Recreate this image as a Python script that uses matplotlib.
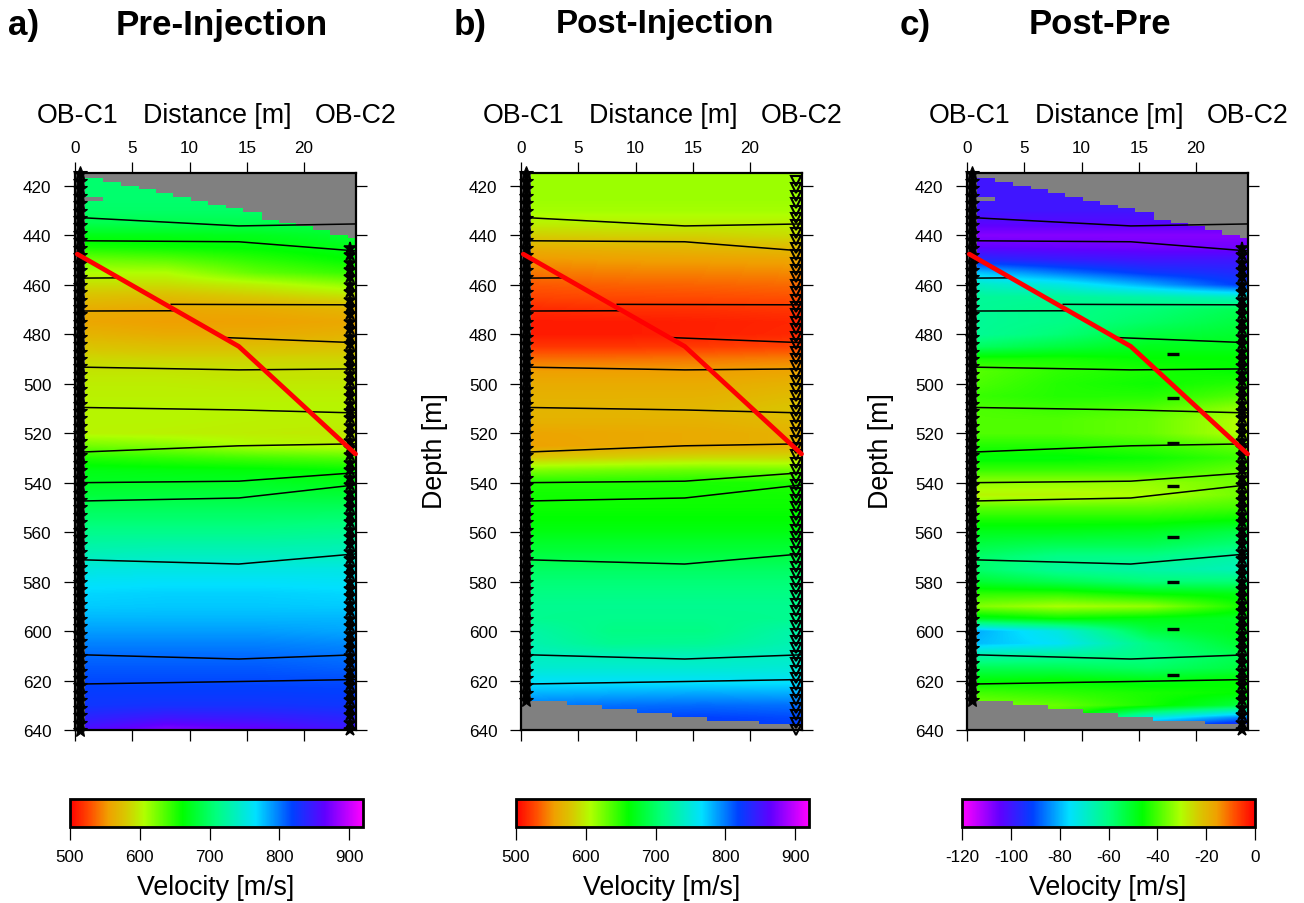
import numpy as np
import matplotlib
matplotlib.use('Agg')
import matplotlib.pyplot as plt
from matplotlib.colors import LinearSegmentedColormap

plt.rcParams['font.family'] = ['Liberation Sans', 'DejaVu Sans']
plt.rcParams['axes.unicode_minus'] = False

# grid of the velocity tables
depths = [415, 420, 425, 430, 435, 440, 445, 450, 455, 460, 465, 470, 475, 480, 485, 490,
          495, 500, 505, 510, 515, 520, 525, 530, 535, 540, 545, 550, 555, 560, 565, 570,
          575, 580, 585, 590, 595, 600, 605, 610, 615, 620, 625, 630, 635, 640]
distances = [0, 8, 16, 24]

pre_vel = [
    [703, 703, 703, 703], [703, 703, 703, 703], [703, 703, 703, 703], [700, 700, 700, 698],
    [691, 691, 691, 689], [670, 670, 672, 680], [653, 658, 663, 670], [626, 632, 648, 661],
    [607, 607, 632, 645], [590, 590, 600, 616], [575, 572, 580, 590], [563, 560, 562, 568],
    [560, 555, 556, 560], [568, 562, 562, 566], [578, 574, 574, 576], [588, 586, 586, 586],
    [594, 594, 592, 592], [598, 598, 596, 596], [600, 600, 600, 600], [602, 602, 602, 602],
    [602, 602, 600, 600], [602, 600, 598, 596], [626, 620, 606, 602], [652, 646, 640, 635],
    [669, 667, 665, 661], [675, 675, 675, 670], [684, 684, 684, 682], [695, 695, 695, 695],
    [704, 704, 704, 706], [715, 715, 715, 718], [726, 728, 728, 730], [737, 740, 740, 740],
    [752, 754, 754, 754], [762, 764, 764, 762], [769, 771, 771, 769], [773, 774, 774, 773],
    [780, 780, 780, 780], [788, 788, 788, 785], [797, 797, 797, 794], [805, 805, 805, 802],
    [811, 811, 811, 808], [816, 816, 816, 815], [822, 822, 822, 820], [826, 829, 829, 826],
    [839, 849, 846, 839], [854, 879, 869, 849]]

post_vel = [
    [613, 613, 613, 613], [613, 613, 613, 613], [613, 613, 613, 613], [610, 610, 610, 610],
    [600, 600, 600, 600], [583, 585, 585, 590], [565, 567, 570, 572], [552, 555, 556, 558],
    [542, 545, 546, 548], [532, 535, 536, 538], [525, 527, 528, 530], [515, 518, 518, 520],
    [510, 510, 512, 514], [510, 510, 512, 515], [520, 520, 522, 525], [540, 540, 542, 545],
    [555, 555, 555, 558], [562, 562, 562, 566], [566, 566, 566, 572], [568, 568, 570, 578],
    [566, 566, 566, 572], [558, 560, 562, 566], [556, 560, 562, 566], [580, 585, 590, 590],
    [621, 626, 629, 626], [652, 652, 654, 652], [656, 656, 656, 656], [658, 658, 658, 658],
    [662, 662, 662, 662], [668, 668, 668, 668], [678, 678, 678, 678], [688, 688, 688, 688],
    [698, 698, 698, 698], [706, 706, 706, 706], [712, 712, 712, 712], [717, 717, 717, 717],
    [717, 715, 715, 717], [728, 712, 712, 728], [732, 717, 719, 732], [738, 735, 735, 740],
    [746, 746, 746, 748], [762, 762, 762, 762], [780, 782, 784, 782], [799, 803, 805, 803],
    [812, 816, 819, 816], [824, 824, 824, 822]]

diff_vel = [
    [-100, -100, -100, -100], [-100, -100, -100, -100], [-100, -100, -100, -100], [-100, -100, -100, -100],
    [-103, -103, -103, -103], [-108, -108, -108, -108], [-104, -105, -106, -106], [-95, -98, -100, -100],
    [-78, -86, -93, -96], [-68, -72, -81, -92], [-63, -63, -65, -68], [-63, -61, -59, -55],
    [-63, -61, -57, -53], [-63, -59, -53, -51], [-57, -53, -49, -49], [-44, -44, -46, -46],
    [-38, -42, -44, -46], [-39, -43, -45, -43], [-41, -43, -43, -39], [-39, -41, -39, -33],
    [-39, -39, -37, -30], [-39, -39, -37, -30], [-43, -43, -41, -37], [-47, -47, -45, -41],
    [-41, -41, -41, -37], [-33, -33, -33, -36], [-29, -29, -31, -36], [-38, -38, -38, -40],
    [-44, -44, -44, -46], [-49, -49, -50, -54], [-53, -55, -55, -59], [-57, -61, -61, -65],
    [-57, -63, -65, -67], [-51, -55, -59, -59], [-42, -42, -46, -48], [-35, -31, -33, -44],
    [-50, -46, -48, -50], [-82, -72, -53, -49], [-80, -75, -60, -51], [-65, -63, -61, -55],
    [-55, -55, -57, -53], [-47, -46, -48, -46], [-40, -42, -44, -46], [-35, -37, -44, -53],
    [-33, -41, -72, -85], [-33, -43, -95, -105]]

# grey blank cells at top and bottom of the ray coverage
top_x = [0.9, 2.47, 4.0, 5.56, 7.07, 8.58, 10.1, 11.6, 13.2, 14.7, 16.3, 17.8, 19.3, 20.8, 22.3, 23.8, 24.54]
top_z = [416.9, 418.4, 419.9, 421.4, 423.0, 424.6, 426.0, 427.6, 429.0, 430.7, 433.7, 435.2, 436.4, 438.0, 439.7, 441.2]
bot_x = [0.0, 4.04, 7.1, 10.1, 13.2, 16.2, 20.8, 24.54]
bot_z = [628.3, 629.9, 631.5, 633.1, 634.6, 636.2, 637.7]

# layer boundaries, each one (x, z) polyline
layers = [
    ([0.7, 14.3, 24.5], [432.9, 436.2, 435.4]),
    ([0.7, 14.3, 24.5], [442.2, 442.6, 446.3]),
    ([0.7, 3.6], [457.3, 457.2]),
    ([8.4, 24.5], [467.9, 468.1]),
    ([0.7, 8.6], [470.6, 470.5]),
    ([12.9, 24.5], [481.3, 483.4]),
    ([0.7, 14.3, 24.5], [493.3, 494.4, 494.0]),
    ([0.7, 14.3, 24.5], [509.6, 510.6, 511.8]),
    ([0.7, 14.3, 24.5], [527.6, 525.1, 524.3]),
    ([0.7, 14.3, 24.5], [540.0, 539.4, 536.0]),
    ([0.7, 14.3, 24.5], [547.4, 546.2, 540.9]),
    ([0.7, 14.3, 24.5], [571.2, 572.9, 568.8]),
    ([0.7, 14.3, 24.5], [609.6, 611.3, 609.6]),
    ([0.7, 14.3, 24.5], [621.4, 620.4, 619.6]),
]
fault_x = [0.2, 14.3, 24.5]
fault_z = [447.6, 484.9, 528.4]

# sensors in the two boreholes
c1_depths = [415, 418, 421, 424, 427, 430, 433, 436, 439, 442, 445, 448, 451, 454, 457, 460, 463, 466,
             469, 472, 475, 478, 481, 484, 487, 490, 493, 496, 499, 502, 505, 508, 511, 514, 517, 520,
             523, 526, 529, 532, 535, 538, 541, 544, 547, 550, 553, 556, 559, 562, 565, 568, 571, 574,
             577, 580, 583, 586, 589, 592, 595, 598, 601, 604, 607, 610, 613, 616, 619, 622, 625, 628,
             631, 634, 637, 640]
c2_depths = [418, 421, 424, 427, 430, 433, 436, 439, 442, 445, 448, 451, 454, 457, 460, 463, 466,
             469, 472, 475, 478, 481, 484, 487, 490, 493, 496, 499, 502, 505, 508, 511, 514, 517, 520,
             523, 526, 529, 532, 535, 538, 541, 544, 547, 550, 553, 556, 559, 562, 565, 568, 571, 574,
             577, 580, 583, 586, 589, 592, 595, 598, 601, 604, 607, 610, 613, 616, 619, 622, 625, 628,
             631, 634, 637, 640]
c1_x = 0.45
c2_x = 24.05

# short black marks in the difference panel
dash_x = 18.0
dash_z = [488, 505.6, 524, 541.5, 562, 580, 599, 617.7]

cmap = LinearSegmentedColormap.from_list('vel', [
    (0.0, '#ff0000'), (0.07, '#ff5000'), (0.13, '#f0a000'), (0.19, '#d8c800'), (0.253, '#b0ff00'),
    (0.384, '#00ff00'), (0.50, '#00ff80'), (0.634, '#00e0ff'), (0.76, '#0040ff'), (0.87, '#6000ff'), (1.0, '#ff00ff')], N=512)

W, H = 1304, 904
fig = plt.figure(figsize=(W / 100, H / 100), dpi=100)


def px_axes(x0, y0, x1, y1):
    # pixel box, y measured from the top
    return fig.add_axes([x0 / W, 1 - y1 / H, (x1 - x0) / W, (y1 - y0) / H])


def draw_panel(x0, letter, title, title_x, title_size, vel, cm, vmin, vmax, cticks, top_gap, bottom_gap, c1_max, c2_min, triangles, dashes, ylabel):
    ax = px_axes(x0, 174, x0 + 281, 731)
    ax.set_facecolor('#808080')
    dz = depths[1] - depths[0]
    dx = distances[1] - distances[0]
    im = ax.imshow(np.array(vel, dtype=float), cmap=cm, vmin=vmin, vmax=vmax, aspect='auto',
                   interpolation='bilinear', interpolation_stage='data',
                   extent=[distances[0] - dx / 2, distances[-1] + dx / 2, depths[-1] + dz / 2, depths[0] - dz / 2])
    # blank left strip
    ax.axvspan(0, 0.9, color='#808080', lw=0, zorder=2)
    if top_gap:
        ax.stairs(top_z, top_x, baseline=414.8, fill=True, color='#808080', lw=0, zorder=2)
        ax.fill_between([0.9, 2.47], [424.6, 424.6], [426.0, 426.0], color='#808080', lw=0, zorder=2)
    if bottom_gap:
        ax.stairs(bot_z, bot_x, baseline=640, fill=True, color='#808080', lw=0, zorder=2)

    for lx, lz in layers:
        ax.plot(lx, lz, color='black', lw=1.1, zorder=3)

    if dashes:
        ax.plot([dash_x] * len(dash_z), dash_z, ls='none', marker='_', ms=8, mew=2.4, color='black', zorder=3)

    zs = [d for d in c1_depths if d <= c1_max]
    ax.plot([c1_x] * len(zs), zs, ls='none', marker='*', ms=10.5, color='black', mew=0.8, zorder=3.5, clip_on=False)
    zs = [d for d in c2_depths if d >= c2_min]
    if triangles:
        ax.plot([c2_x] * len(zs), zs, ls='none', marker='v', ms=6.5, mfc='none', mec='black', mew=1.5, zorder=5, clip_on=False)
    else:
        ax.plot([c2_x] * len(zs), zs, ls='none', marker='*', ms=9, color='black', mew=1.2, zorder=5, clip_on=False)
    ax.plot(fault_x, fault_z, color='#ff0000', lw=3.4, zorder=6, solid_joinstyle='round', solid_capstyle='round', clip_on=False)

    ax.set_xlim(0, 24.54)
    ax.set_ylim(640, 414.8)
    ax.set_xticks([0, 5, 10, 15, 20])
    ax.set_yticks(np.arange(420, 641, 20))
    ax.tick_params(axis='x', top=True, bottom=True, labeltop=True, labelbottom=False, length=8, width=0.9, labelsize=12.3, pad=5)
    ax.tick_params(axis='y', left=True, right=True, length=8, width=0.9, labelsize=12.3, pad=9)
    for s in ax.spines.values():
        s.set_linewidth(1.6)

    fig.text((x0 + 3) / W, 1 - 116 / H, 'OB-C1', ha='center', va='center', fontsize=19.3)
    fig.text((x0 + 142) / W, 1 - 116 / H, 'Distance [m]', ha='center', va='center', fontsize=19.3)
    fig.text((x0 + 281) / W, 1 - 116 / H, 'OB-C2', ha='center', va='center', fontsize=19.3)
    fig.text((x0 - 67) / W, 1 - 25 / H, letter, ha='left', va='center', fontsize=25.2, fontweight='bold')
    fig.text(title_x / W, 1 - 25 / H, title, ha='center', va='center', fontsize=title_size, fontweight='bold')
    if ylabel:
        fig.text((x0 - 86) / W, 1 - 451 / H, 'Depth [m]', rotation=90, ha='center', va='center', fontsize=19.3)

    cax = px_axes(x0 - 5, 800, x0 + 288, 828)
    cb = fig.colorbar(im, cax=cax, orientation='horizontal', ticks=cticks)
    cb.outline.set_linewidth(2.0)
    cb.ax.tick_params(length=9, width=0.9, labelsize=12.3, pad=7)
    fig.text((x0 + 141) / W, 1 - 888 / H, 'Velocity [m/s]', ha='center', va='center', fontsize=19.3)


abs_ticks = [500, 600, 700, 800, 900]
diff_ticks = [-120, -100, -80, -60, -40, -20, 0]
draw_panel(75, 'a)', 'Pre-Injection', 222, 25.2, pre_vel, cmap, 500, 920, abs_ticks, True, False, 640, 445, False, False, False)
draw_panel(521, 'b)', 'Post-Injection', 665, 23.9, post_vel, cmap, 500, 920, abs_ticks, False, True, 628, 418, True, False, True)
draw_panel(967, 'c)', 'Post-Pre', 1099.5, 24.9, diff_vel, cmap.reversed(), -120, 0, diff_ticks, True, True, 628, 445, False, True, True)

fig.savefig('out.png', dpi=100)
